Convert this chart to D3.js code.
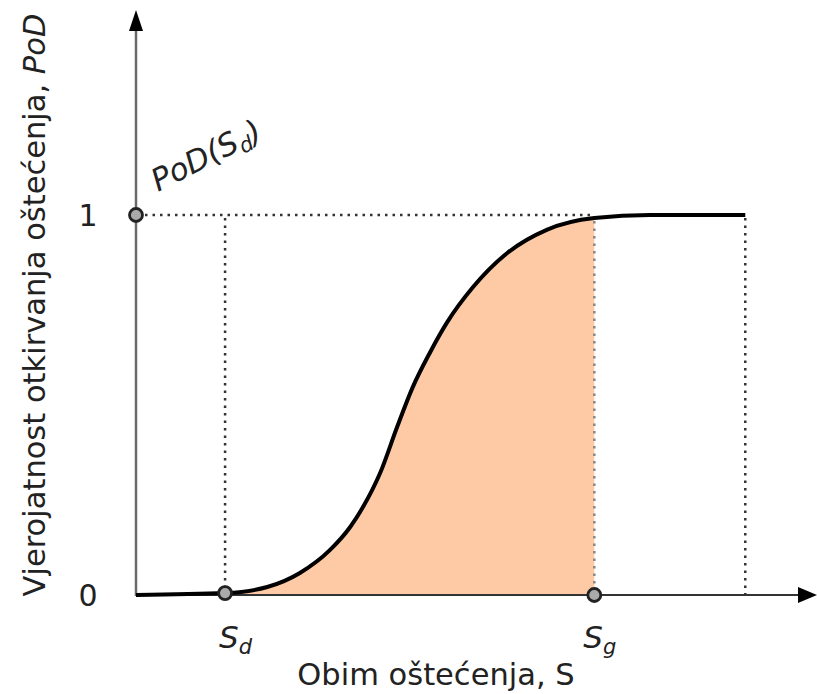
<!DOCTYPE html>
<html>
<head>
<meta charset="utf-8">
<script src="https://cdn.jsdelivr.net/npm/d3@7"></script>
<style>
  html, body { margin: 0; padding: 0; background: #fff; }
  svg { display: block; }
  text { font-family: "DejaVu Sans", Verdana, sans-serif; fill: #222; }
</style>
</head>
<body>
<svg id="chart" width="817" height="694"></svg>
<script>
// ---- data ----
const curveX = [0, 1.31, 1.93, 2.41, 2.85, 3.15, 3.34, 3.59, 3.84, 4.07, 4.32, 4.57, 4.96, 5.46, 6.04, 6.74, 7.56, 8.96];
const curveY = [0, 0.005, 0.021, 0.058, 0.118, 0.179, 0.232, 0.321, 0.442, 0.547, 0.637, 0.716, 0.811, 0.900, 0.961, 0.992, 1.0, 1.0];
const Sd = 1.31;
const Sg = 6.74;
const Smax = 8.96;
const yTicks = [0, 1];
const xLabel = "Obim oštećenja, S";
const yLabel = "Vjerojatnost otkirvanja oštećenja, ";
const yLabelItalic = "PoD";

const svg = d3.select("#chart");
const x = d3.scaleLinear().domain([0, 10]).range([136, 816]);
const y = d3.scaleLinear().domain([0, 1]).range([595, 215]);

const pts = curveX.map((v, i) => ({ x: v, y: curveY[i] }));
const fillColor = "#fdcaa5";

svg.append("defs").append("clipPath").attr("id", "shade")
  .append("rect")
  .attr("x", x(Sd)).attr("y", 0)
  .attr("width", x(Sg) - x(Sd)).attr("height", y(0));

const area = d3.area().x(d => x(d.x)).y0(y(0)).y1(d => y(d.y)).curve(d3.curveMonotoneX);
svg.append("path").datum(pts).attr("d", area)
  .attr("fill", fillColor).attr("clip-path", "url(#shade)");

function dotted(x1, y1, x2, y2, col) {
  svg.append("line").attr("x1", x1).attr("y1", y1).attr("x2", x2).attr("y2", y2)
    .attr("stroke", col || "#333").attr("stroke-width", 2.5)
    .attr("stroke-dasharray", "2.5,5");
}
dotted(x(0) + 9, y(1), x(Sg), y(1));
dotted(x(Sd), y(1) + 3, x(Sd), y(0) - 7);
dotted(x(Sg), y(0.992) + 3, x(Sg), y(0) - 7, "#888");
dotted(x(Smax), y(1) + 3, x(Smax), y(0) - 1);

// axes
svg.append("line").attr("x1", x(0)).attr("y1", y(0) + 1).attr("x2", x(0)).attr("y2", 26)
  .attr("stroke", "#6a6a6a").attr("stroke-width", 2.5);
svg.append("path").attr("d", `M${x(0)},10 L${x(0) - 7},31 L${x(0) + 7},31 Z`).attr("fill", "#000");

svg.append("line").attr("x1", x(0)).attr("y1", y(0)).attr("x2", 803).attr("y2", y(0))
  .attr("stroke", "#333").attr("stroke-width", 2.2);
svg.append("path").attr("d", `M817,${y(0)} L798,${y(0) - 8} L798,${y(0) + 8} Z`).attr("fill", "#000");

// curve
const line = d3.line().x(d => x(d.x)).y(d => y(d.y)).curve(d3.curveMonotoneX);
svg.append("path").datum(pts).attr("d", line)
  .attr("fill", "none").attr("stroke", "#000").attr("stroke-width", 4);

// markers
[[0, 1], [Sd, curveY[1]], [Sg, 0]].forEach(([a, b]) => {
  svg.append("circle").attr("cx", x(a)).attr("cy", y(b)).attr("r", 6.5)
    .attr("fill", "#aaa").attr("stroke", "#222").attr("stroke-width", 2.8);
});

// tick labels
yTicks.forEach(t => {
  svg.append("text").attr("x", 88).attr("y", y(t) + 11).attr("text-anchor", "middle")
    .attr("font-size", 30).text(t);
});

// PoD(Sd) label
const pod = svg.append("text").attr("transform", "translate(158,192) rotate(-27)")
  .attr("font-size", 31).attr("font-style", "italic");
pod.append("tspan").text("PoD(S");
pod.append("tspan").attr("font-size", 21).attr("dy", 5).text("d");
pod.append("tspan").attr("dy", -5).text(")");

// Sd / Sg labels
function sLabel(cx, sub) {
  const t = svg.append("text").attr("x", cx).attr("y", 648).attr("font-size", 31)
    .attr("font-style", "italic");
  t.append("tspan").text("S");
  t.append("tspan").attr("font-size", 21).attr("dy", 6).text(sub);
}
sLabel(x(Sd) - 6, "d");
sLabel(x(Sg) - 11, "g");

// axis titles
svg.append("text").attr("x", 436).attr("y", 685).attr("text-anchor", "middle")
  .attr("font-size", 30.5).text(xLabel);

const yl = svg.append("text").attr("transform", "translate(45,305) rotate(-90)")
  .attr("text-anchor", "middle").attr("font-size", 30.5);
yl.append("tspan").text(yLabel);
yl.append("tspan").attr("font-style", "italic").text(yLabelItalic);
</script>
</body>
</html>
